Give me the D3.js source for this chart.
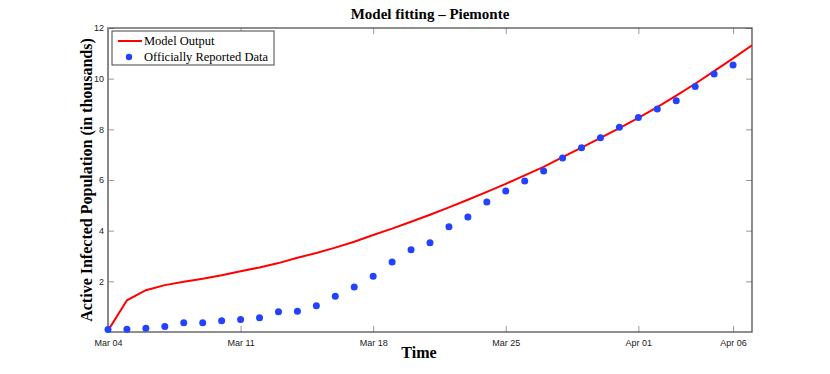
<!DOCTYPE html>
<html>
<head>
<meta charset="utf-8">
<title>Model fitting - Piemonte</title>
<script src="https://d3js.org/d3.v7.min.js"></script>
<style>
  body { margin: 0; background: #fff; }
  .tick text { font-family: "Liberation Sans", Arial, sans-serif; font-size: 9px; fill: #222; }
  .serif { font-family: "Liberation Serif", "Times New Roman", serif; }
</style>
</head>
<body>
<div id="chart"></div>
<script>
// data (thousands of people)
var startDate = new Date(2020, 2, 4);
var reported = [0.10, 0.11, 0.15, 0.22, 0.37, 0.37, 0.44, 0.49, 0.56, 0.80, 0.82, 1.04,
  1.41, 1.78, 2.20, 2.76, 3.25, 3.52, 4.15, 4.54, 5.13, 5.57, 5.96, 6.36, 6.87, 7.27,
  7.67, 8.08, 8.47, 8.80, 9.13, 9.69, 10.18, 10.54];
var model = [0.05, 1.25, 1.65, 1.85, 1.98, 2.10, 2.24, 2.40, 2.55, 2.72, 2.93, 3.12,
  3.33, 3.56, 3.83, 4.08, 4.35, 4.63, 4.92, 5.22, 5.53, 5.85, 6.18, 6.52, 6.90, 7.28,
  7.66, 8.05, 8.45, 8.88, 9.33, 9.80, 10.30, 10.80, 11.32];
var xTicks = ["2020-03-04", "2020-03-11", "2020-03-18", "2020-03-25", "2020-04-01", "2020-04-06"];
var yTicks = [2, 4, 6, 8, 10, 12];
var legendLabels = ["Model Output", "Officially Reported Data"];

var width = 830, height = 374;
var margin = {top: 28, right: 78, bottom: 42, left: 108};
var iw = width - margin.left - margin.right,
    ih = height - margin.top - margin.bottom;

function day(i) { return d3.timeDay.offset(startDate, i); }

var x = d3.scaleTime()
  .domain([startDate, day(34)])
  .range([0, iw]);
var y = d3.scaleLinear().domain([0, 12]).range([ih, 0]);

var svg = d3.select("#chart").append("svg")
  .attr("width", width).attr("height", height);
var g = svg.append("g")
  .attr("transform", "translate(" + margin.left + "," + margin.top + ")");

var parse = d3.timeParse("%Y-%m-%d");
var tickDates = xTicks.map(parse);

// bottom axis, ticks pointing inside
var xAxis = g.append("g").attr("transform", "translate(0," + ih + ")")
  .call(d3.axisBottom(x).tickValues(tickDates).tickFormat(d3.timeFormat("%b %d"))
    .tickSizeInner(-6).tickSizeOuter(0).tickPadding(8));
var xTop = g.append("g")
  .call(d3.axisTop(x).tickValues(tickDates).tickFormat("").tickSizeInner(-6).tickSizeOuter(0));
var yAxis = g.append("g")
  .call(d3.axisLeft(y).tickValues(yTicks).tickSizeInner(-6).tickSizeOuter(0).tickPadding(4));
var yRight = g.append("g").attr("transform", "translate(" + iw + ",0)")
  .call(d3.axisRight(y).tickValues(yTicks).tickFormat("").tickSizeInner(-6).tickSizeOuter(0));

[xAxis, xTop, yAxis, yRight].forEach(function (a) {
  a.select(".domain").remove();
  a.selectAll(".tick line").attr("stroke", "#999");
});

// frame
g.append("rect").attr("width", iw).attr("height", ih)
  .attr("fill", "none").attr("stroke", "#444").attr("stroke-width", 1.2);
g.append("line").attr("x1", 0).attr("x2", 0).attr("y1", 0).attr("y2", ih)
  .attr("stroke", "#888").attr("stroke-width", 2);

// model line
var line = d3.line()
  .x(function (d, i) { return x(day(i)); })
  .y(function (d) { return y(d); });

var clip = svg.append("clipPath").attr("id", "clip").append("rect")
  .attr("width", iw).attr("height", ih + 2).attr("y", -1);

g.append("path").datum(model)
  .attr("clip-path", "url(#clip)")
  .attr("d", line)
  .attr("fill", "none").attr("stroke", "#ff0000").attr("stroke-width", 2);

// reported dots
g.selectAll(".dot").data(reported).enter().append("circle")
  .attr("class", "dot")
  .attr("cx", function (d, i) { return x(day(i)); })
  .attr("cy", function (d) { return y(d); })
  .attr("r", 3.5)
  .attr("fill", "#2142ff");

// legend
var lg = g.append("g").attr("transform", "translate(4,3)");
lg.append("rect").attr("width", 162).attr("height", 34)
  .attr("fill", "#fff").attr("stroke", "#444").attr("stroke-width", 1);
lg.append("line").attr("x1", 6).attr("x2", 30).attr("y1", 10).attr("y2", 10)
  .attr("stroke", "#ff0000").attr("stroke-width", 2);
lg.append("circle").attr("cx", 17).attr("cy", 26).attr("r", 3.2).attr("fill", "#2142ff");
lg.selectAll("text.leg").data(legendLabels).enter().append("text")
  .attr("class", "leg serif")
  .attr("x", 32)
  .attr("y", function (d, i) { return 10 + i * 16; })
  .attr("dy", "0.35em")
  .style("font-size", "12.5px")
  .text(function (d) { return d; });

// titles
svg.append("text").attr("class", "serif")
  .attr("x", margin.left + iw / 2).attr("y", 19)
  .attr("text-anchor", "middle")
  .style("font-size", "15px").style("font-weight", "bold")
  .text("Model fitting \u2013 Piemonte");

svg.append("text").attr("class", "serif")
  .attr("x", margin.left + iw / 2 - 11).attr("y", 358)
  .attr("text-anchor", "middle")
  .style("font-size", "16px").style("font-weight", "bold")
  .text("Time");

svg.append("text").attr("class", "serif")
  .attr("transform", "translate(92," + (margin.top + ih / 2) + ") rotate(-90)")
  .attr("text-anchor", "middle")
  .style("font-size", "16px").style("font-weight", "bold")
  .text("Active Infected Population (in thousands)");
</script>
</body>
</html>
